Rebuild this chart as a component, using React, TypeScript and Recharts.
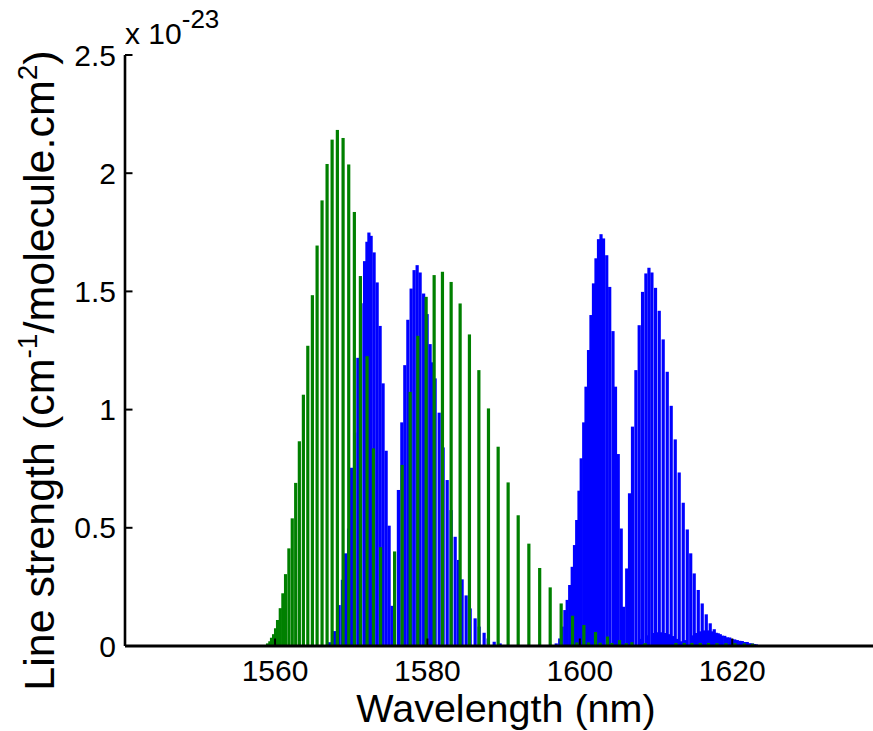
import React from 'react';
import { ComposedChart, Bar, XAxis, YAxis, Label } from 'recharts';

// CO2 main bands (30012 and 30013), line strength in units of 1e-23
const co2Wavelength = [
  1567.16, 1567.79, 1568.41, 1568.84, 1569.26, 1569.65, 1570.05, 1570.44, 1570.87, 1571.29,
  1571.75, 1572.06, 1572.32, 1572.61, 1573.0, 1573.4, 1573.79, 1574.18, 1574.58, 1574.97, 1575.36,
  1576.19, 1576.64, 1577.03, 1577.43, 1577.86, 1578.25, 1578.65, 1579.04, 1579.5, 1579.96, 1580.35,
  1580.68, 1581.01, 1581.54, 1582.06, 1582.59, 1583.11, 1583.64, 1584.09, 1584.55, 1585.08, 1585.61,
  1586.26, 1586.79, 1587.44, 1587.97, 1588.76, 1589.54,
  1596.9, 1597.36, 1597.68, 1598.04, 1598.34, 1598.67, 1599.0, 1599.3, 1599.59, 1599.89, 1600.18,
  1600.51, 1600.81, 1601.14, 1601.46, 1601.79, 1602.12, 1602.45, 1602.78, 1603.11, 1603.53, 1603.92,
  1604.35, 1604.68, 1605.04, 1605.43, 1605.73,
  1606.15, 1606.52, 1606.91, 1607.36, 1607.79, 1608.23, 1608.67, 1609.07, 1609.46, 1609.93, 1610.42,
  1610.94, 1611.47, 1611.99, 1612.52, 1613.04, 1613.57, 1614.1, 1614.55, 1615.01, 1615.54, 1616.06,
  1616.59, 1617.11, 1617.64, 1618.16, 1618.69, 1619.35, 1620.0, 1620.66, 1621.32, 1621.97, 1622.63,
  1623.15,
];
const co2Strength = [
  0.016, 0.063, 0.173, 0.28, 0.392, 0.497, 0.754, 0.903, 1.219, 1.45,
  1.628, 1.71, 1.749, 1.735, 1.665, 1.538, 1.354, 1.111, 0.826, 0.509, 0.17,
  0.66, 0.946, 1.188, 1.38, 1.512, 1.59, 1.611, 1.58, 1.491, 1.404, 1.277,
  1.2, 1.132, 0.987, 0.84, 0.702, 0.575, 0.462, 0.364, 0.282, 0.214, 0.159,
  0.117, 0.082, 0.056, 0.032, 0.018, 0.011,
  0.011, 0.032, 0.082, 0.152, 0.195, 0.258, 0.335, 0.427, 0.533, 0.657, 0.794,
  0.946, 1.097, 1.252, 1.4, 1.534, 1.64, 1.721, 1.742, 1.724, 1.653, 1.519,
  1.332, 1.097, 0.812, 0.497, 0.166,
  0.328, 0.646, 0.928, 1.167, 1.357, 1.498, 1.576, 1.6, 1.58, 1.515, 1.418,
  1.297, 1.16, 1.016, 0.874, 0.734, 0.606, 0.493, 0.392, 0.307, 0.237, 0.18,
  0.134, 0.096, 0.071, 0.054, 0.044, 0.037, 0.03, 0.025, 0.021, 0.017, 0.011,
  0.007,
];

// weak CO2 hot band
const co2HotWavelength = [
  1608.06, 1608.84, 1609.7, 1610.16, 1610.68, 1611.21, 1611.73, 1612.26, 1612.78, 1613.31, 1613.83,
  1614.79, 1615.28, 1615.8, 1616.33, 1616.85, 1617.38, 1617.9, 1618.43, 1619.02, 1619.67, 1620.33,
  1620.99, 1621.64, 1622.3, 1622.89,
];
const co2HotStrength = [
  0.03, 0.045, 0.055, 0.058, 0.058, 0.055, 0.05, 0.042, 0.03, 0.02, 0.025,
  0.045, 0.055, 0.062, 0.066, 0.066, 0.062, 0.056, 0.05, 0.043, 0.036, 0.028,
  0.022, 0.017, 0.012, 0.008,
];

// CO 3-0 band
const coWavelength = [
  1559.02, 1559.32, 1559.54, 1559.81, 1560.07, 1560.33, 1560.69, 1561.03, 1561.38, 1561.82,
  1562.26, 1562.71, 1563.19, 1563.72, 1564.3, 1564.9, 1565.52, 1566.17, 1566.83, 1567.49,
  1568.18, 1568.93, 1569.67, 1570.41, 1571.2, 1572.08, 1572.91, 1573.85,
  1575.69, 1576.68, 1577.73, 1578.74, 1579.83, 1580.88, 1581.97, 1583.11, 1584.29, 1585.51,
  1586.75, 1588.01, 1589.28, 1590.59, 1591.91, 1593.31, 1594.73, 1596.11, 1597.55, 1599.04,
  1600.53, 1602.06, 1603.63, 1605.21, 1606.83, 1608.45,
];
const coStrength = [
  0.011, 0.02, 0.035, 0.05, 0.075, 0.11, 0.16, 0.223, 0.304, 0.413,
  0.54, 0.69, 0.866, 1.063, 1.27, 1.484, 1.694, 1.885, 2.039, 2.142,
  2.183, 2.149, 2.037, 1.836, 1.565, 1.226, 0.836, 0.418,
  0.4, 0.766, 1.075, 1.312, 1.477, 1.569, 1.583, 1.54, 1.449, 1.318,
  1.167, 1.005, 0.843, 0.692, 0.553, 0.433, 0.33, 0.248, 0.18, 0.128,
  0.089, 0.059, 0.04, 0.025, 0.016, 0.008,
];

// weak CO lines
const coWeakWavelength = [
  1599.61, 1601.14, 1602.67, 1604.21, 1606.09, 1608.58, 1612.61, 1613.7, 1614.71, 1615.8,
  1616.89, 1617.99, 1619.18, 1620.36, 1621.58, 1622.67,
];
const coWeakStrength = [
  0.015, 0.015, 0.014, 0.013, 0.012, 0.012, 0.013, 0.013, 0.013, 0.013,
  0.013, 0.012, 0.012, 0.012, 0.011, 0.01,
];

const xTicks = [1560, 1580, 1600, 1620];
const yTicks = [0, 0.5, 1, 1.5, 2, 2.5];
const xDomain = [1540.31, 1640.31];
const yDomain = [0, 2.5];

type Row = { wl: number; co2?: number; co2hot?: number; co?: number; coweak?: number };

const rows: Row[] = [
  ...co2Wavelength.map((wl, i) => ({ wl, co2: co2Strength[i] })),
  ...co2HotWavelength.map((wl, i) => ({ wl, co2hot: co2HotStrength[i] })),
  ...coWavelength.map((wl, i) => ({ wl, co: coStrength[i] })),
  ...coWeakWavelength.map((wl, i) => ({ wl, coweak: coWeakStrength[i] })),
].sort((a, b) => a.wl - b.wl);

const FONT = '"Liberation Sans", Arial, Helvetica, sans-serif';

// draws a fixed-width stick centred on the position Recharts computed for the bar
const stick = (w: number) => (props: any) => {
  const { x, y, width, height, fill } = props;
  if (!height || height <= 0 || !isFinite(x)) return <g />;
  const c = x + width / 2;
  return <rect x={c - w / 2} y={y} width={w} height={height} fill={fill} />;
};

const YLabel = (props: any) => {
  const vb = props.viewBox || { x: 0, y: 55, width: 125, height: 591 };
  const cx = vb.x + 54;
  const cy = vb.y + vb.height / 2 + 20;
  const axisX = vb.x + vb.width;
  return (
    <g>
      <text
        x={cx}
        y={cy}
        transform={`rotate(-90, ${cx}, ${cy})`}
        textAnchor="middle"
        fontSize={43}
        fill="#000"
        fontFamily={FONT}
      >
        <tspan>Line strength (cm</tspan>
        <tspan fontSize={28} dy={-17}>-1</tspan>
        <tspan dy={17}>/molecule.cm</tspan>
        <tspan fontSize={28} dy={-17}>2</tspan>
        <tspan dy={17}>)</tspan>
      </text>
      <text x={axisX} y={vb.y - 11} fontSize={30} fill="#000" fontFamily={FONT}>
        <tspan>x 10</tspan>
        <tspan fontSize={26} dy={-16}>-23</tspan>
      </text>
    </g>
  );
};

export default function App() {
  return (
    <div
      style={{
        position: 'absolute',
        left: 0,
        top: 0,
        width: 873,
        height: 731,
        overflow: 'hidden',
        background: '#fff',
        fontFamily: FONT,
      }}
    >
      <ComposedChart
        width={900}
        height={731}
        data={rows}
        margin={{ top: 55, right: 13, left: 0, bottom: 0 }}
        barGap={0}
        style={{ fontFamily: FONT }}
      >
        <Bar dataKey="co2" stackId="s" fill="#0000ff" shape={stick(3.2)} isAnimationActive={false} />
        <Bar dataKey="co2hot" stackId="s" fill="#0000ff" shape={stick(3.2)} isAnimationActive={false} />
        <Bar dataKey="co" stackId="s" fill="#008000" shape={stick(3.2)} isAnimationActive={false} />
        <Bar dataKey="coweak" stackId="s" fill="#008000" shape={stick(3.2)} isAnimationActive={false} />
        <XAxis
          dataKey="wl"
          type="number"
          domain={xDomain}
          allowDataOverflow
          ticks={xTicks}
          height={85}
          tickSize={-7.5}
          tickMargin={20.7}
          axisLine={{ stroke: '#000', strokeWidth: 2.8 }}
          tickLine={{ stroke: '#000', strokeWidth: 2 }}
          tick={{ fontSize: 30, fill: '#000', fontFamily: FONT }}
          interval={0}
        >
          <Label
            value="Wavelength (nm)"
            position="insideBottom"
            offset={9}
            fontSize={39.5}
            fill="#000"
            fontFamily={FONT}
          />
        </XAxis>
        <XAxis
          xAxisId="top"
          orientation="top"
          type="number"
          domain={xDomain}
          allowDataOverflow
          ticks={xTicks}
          height={0}
          tickSize={-7.5}
          tick={false}
          axisLine={{ stroke: '#000', strokeWidth: 2.6 }}
          tickLine={{ stroke: '#000', strokeWidth: 2 }}
          interval={0}
        />
        <YAxis
          type="number"
          domain={yDomain}
          allowDataOverflow
          ticks={yTicks}
          width={125}
          tickSize={-7.5}
          tickMargin={16.5}
          axisLine={{ stroke: '#000', strokeWidth: 2.6 }}
          tickLine={{ stroke: '#000', strokeWidth: 2 }}
          tick={{ fontSize: 30, fill: '#000', fontFamily: FONT }}
          tickFormatter={(v: number) => String(v)}
          interval={0}
        >
          <Label content={YLabel} />
        </YAxis>
      </ComposedChart>
    </div>
  );
}
